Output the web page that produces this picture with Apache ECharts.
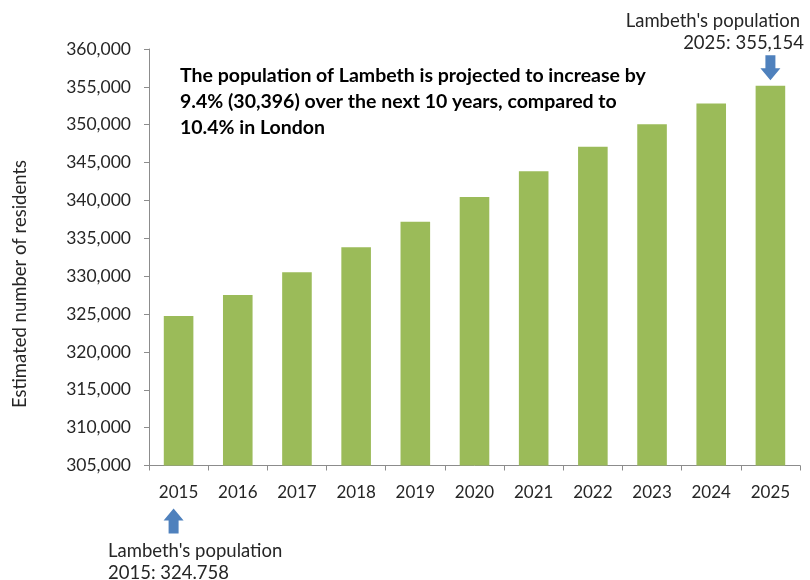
<!DOCTYPE html>
<html>
<head>
<meta charset="utf-8">
<script src="https://cdn.jsdelivr.net/npm/echarts@6/dist/echarts.min.js"></script>
<style>
  html, body { margin: 0; padding: 0; background: #fff; }
  #chart { width: 810px; height: 580px; }
</style>
</head>
<body>
<div id="chart"></div>
<script>
// Lambeth population projection, 2015–2025
const years = ['2015', '2016', '2017', '2018', '2019', '2020', '2021', '2022', '2023', '2024', '2025'];
const residents = [324758, 327520, 330510, 333820, 337180, 340460, 343870, 347100, 350050, 352790, 355154];

const yTitle = 'Estimated number of residents';
const headline = [
  'The population of Lambeth is projected to increase by',
  '9.4% (30,396) over the next 10 years, compared to',
  '10.4% in London'
];
const endNote = ["Lambeth's population", '2025: 355,154'];
const startNote = ["Lambeth's population", '2015: 324.758'];

const FONT = 'Lato, "Open Sans", sans-serif';
const TEXT = '#262626';
const AXIS = '#8c8c8c';
const ARROW = '#4f81bd';

// block arrows (pointing down / up)
const arrowDown = 'path://M5 0 L15 0 L15 13 L20 13 L10 25 L0 13 L5 13 Z';
const arrowUp = 'path://M10 0 L20 12 L15 12 L15 25 L5 25 L5 12 L0 12 Z';

const chart = echarts.init(document.getElementById('chart'), null, { renderer: 'canvas' });

chart.setOption({
  animation: false,
  backgroundColor: '#ffffff',
  textStyle: { fontFamily: FONT },
  grid: { left: 149, right: 10, top: 49, bottom: 114.5, containLabel: false },
  xAxis: {
    type: 'category',
    data: years,
    boundaryGap: true,
    axisLine: { lineStyle: { color: AXIS, width: 1 } },
    axisTick: { show: true, length: 5, alignWithLabel: false, lineStyle: { color: AXIS } },
    axisLabel: { color: TEXT, fontSize: 17, fontFamily: FONT, margin: 19 }
  },
  yAxis: {
    type: 'value',
    min: 305000,
    max: 360000,
    interval: 5000,
    axisLine: { show: true, lineStyle: { color: AXIS, width: 1 } },
    axisTick: { show: true, length: 5, lineStyle: { color: AXIS } },
    splitLine: { show: false },
    axisLabel: {
      color: TEXT,
      fontSize: 17.5,
      fontFamily: FONT,
      margin: 18,
      formatter: v => v.toLocaleString('en-US')
    }
  },
  series: [{
    type: 'bar',
    data: residents,
    barWidth: '50%',
    itemStyle: { color: '#9bbb59' },
    markPoint: {
      silent: true,
      label: { show: false },
      data: [
        {
          coord: ['2025', residents[10]],
          symbol: arrowDown,
          symbolSize: [20, 25],
          symbolOffset: [0, -18],
          itemStyle: { color: ARROW }
        },
        {
          coord: ['2015', 305000],
          symbol: arrowUp,
          symbolSize: [20, 25],
          symbolOffset: [-5, 55.5],
          itemStyle: { color: ARROW }
        }
      ]
    }
  }],
  graphic: [
    {
      // vertical axis title
      type: 'text',
      x: 20,
      y: 284,
      rotation: Math.PI / 2,
      style: {
        text: yTitle,
        font: '18.5px ' + FONT,
        align: 'center',
        verticalAlign: 'middle',
        fill: TEXT
      }
    },
    {
      type: 'text',
      x: 180,
      y: 62.5,
      style: {
        text: headline.join('\n'),
        font: 'bold 19.5px ' + FONT,
        lineHeight: 26,
        fill: '#000000'
      }
    },
    {
      type: 'text',
      x: 800,
      y: 20.7,
      style: {
        text: endNote[0],
        font: '18.5px ' + FONT,
        align: 'right',
        verticalAlign: 'middle',
        fill: TEXT
      }
    },
    {
      type: 'text',
      x: 804,
      y: 43.3,
      style: {
        text: endNote[1],
        font: '18.5px ' + FONT,
        align: 'right',
        verticalAlign: 'middle',
        fill: TEXT
      }
    },
    {
      type: 'text',
      x: 108,
      y: 550.7,
      style: {
        text: startNote[0],
        font: '18.5px ' + FONT,
        verticalAlign: 'middle',
        fill: TEXT
      }
    },
    {
      type: 'text',
      x: 108,
      y: 572.7,
      style: {
        text: startNote[1],
        font: '18.5px ' + FONT,
        verticalAlign: 'middle',
        fill: TEXT
      }
    }
  ]
});
</script>
</body>
</html>
